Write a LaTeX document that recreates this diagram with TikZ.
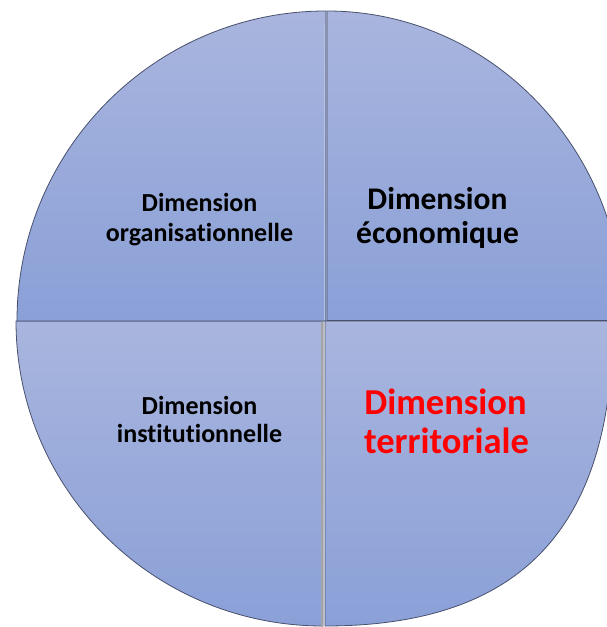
\documentclass[tikz,border=0pt]{standalone}
\usepackage{fontspec}
\setmainfont[Ligatures={NoCommon,NoRequired}]{Carlito}
\definecolor{qtop}{RGB}{169,181,222}
\definecolor{qbot}{RGB}{138,160,215}
\definecolor{edge}{RGB}{72,80,108}
\definecolor{divgrey}{RGB}{165,165,165}
\definecolor{hilite}{RGB}{182,192,228}
\definecolor{redtxt}{RGB}{255,0,0}
\tikzset{
  sector/.style={draw=edge, line width=0.8pt, top color=qtop, bottom color=qbot},
  smalltxt/.style={inner sep=0pt, anchor=base, font=\bfseries\fontsize{26}{30}\selectfont, text=black},
  midtxt/.style={inner sep=0pt, anchor=base, font=\bfseries\fontsize{31.5}{35}\selectfont, text=black},
  bigtxt/.style={inner sep=0pt, anchor=base, font=\bfseries\fontsize{36.5}{40}\selectfont, text=redtxt}
}
\begin{document}
\begin{tikzpicture}[x=1pt,y=1pt]
\useasboundingbox (0,0) rectangle (607,627);
\clip (0,0) rectangle (607,627);
% lower quadrants
\path[sector] (323,306) -- (16,306) arc[start angle=180,end angle=270,x radius=307,y radius=305] -- cycle;
\path[sector] (325,306) -- (325,1) .. controls (521,1) and (613,98.6) .. (613,306) -- cycle;
\coordinate (gtop) at (322,306);
\coordinate (gbot) at (322,0);
\draw[divgrey, line width=2.5pt] (gtop) -- (gbot);
% upper quadrants
\path[sector] (326,306) -- (17,306) arc[start angle=180,end angle=90,x radius=309,y radius=310] -- cycle;
\path[sector] (327,306.5) -- (327,616) arc[start angle=90,end angle=0,x radius=297,y radius=309.5] -- cycle;
\coordinate (htop) at (324.6,603);
\coordinate (hbot) at (324.6,307);
\draw[hilite, line width=1pt] (htop) -- (hbot);
% texts
\node[smalltxt] (tl1) at (199.5,415.3) {Dimension};
\node[smalltxt] (tl2) at (199.5,385.3) {organisationnelle};
\node[midtxt] (tr1) at (437.5,417) {Dimension};
\node[midtxt] (tr2) at (437.5,383) {économique};
\node[smalltxt] (bl1) at (199.5,212.5) {Dimension};
\node[smalltxt] (bl2) at (199.5,184) {institutionnelle};
\node[bigtxt] (br1) at (445.5,212) {Dimension};
\node[bigtxt] (br2) at (446.5,173.7) {territoriale};
\end{tikzpicture}
\end{document}
